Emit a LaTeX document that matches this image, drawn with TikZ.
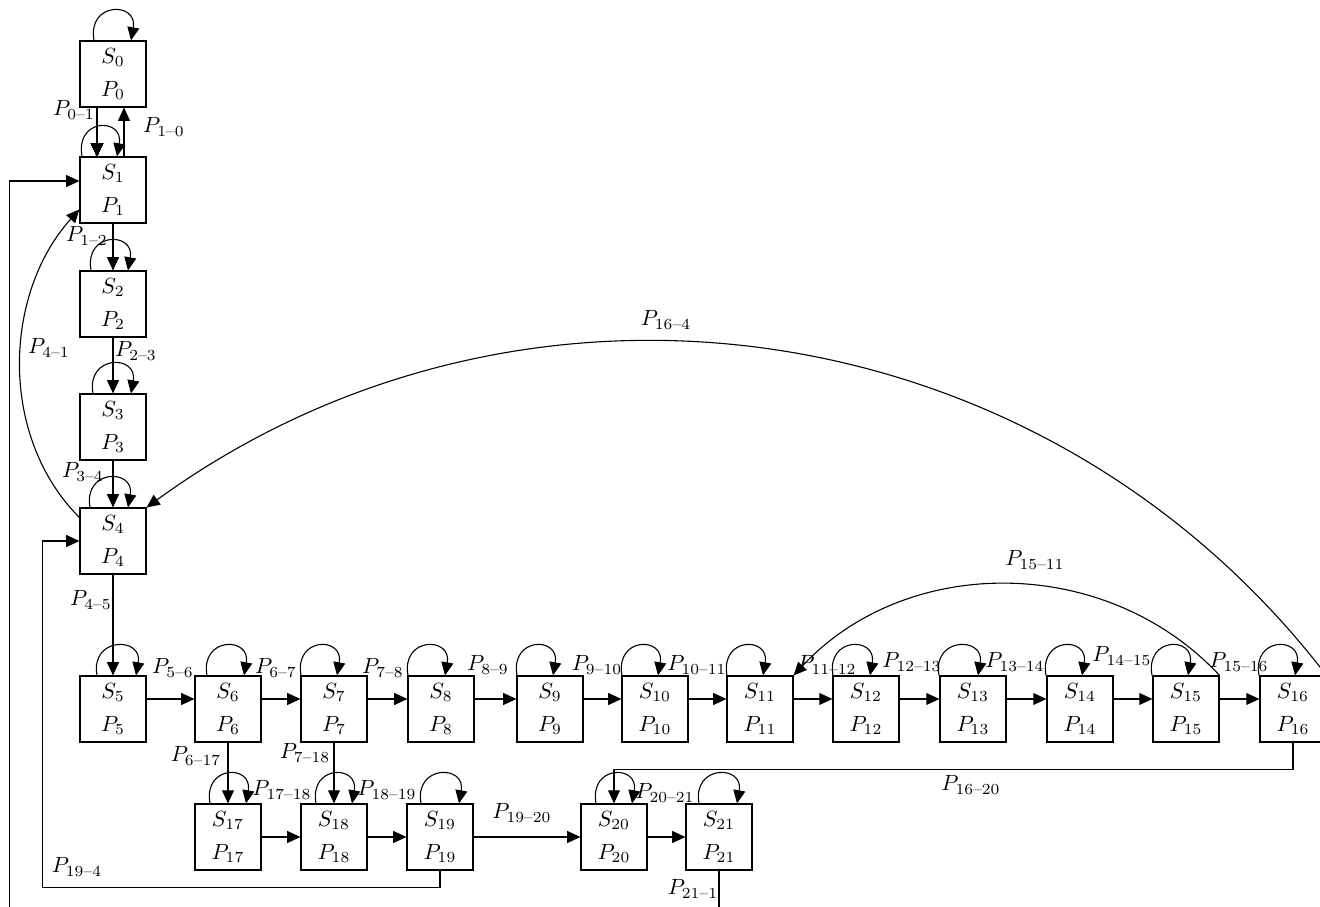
\documentclass[tikz,border=0pt]{standalone}
\usepackage{amsmath}
\usetikzlibrary{arrows.meta,calc}
\newcommand\selfloop[3]{\draw[arr] ($(#1.north)+(#2,0)$) .. controls +(-7,39) and +(7,39) .. ($(#1.north)+(#3,0)$);}
\newcommand\lab[5]{\node[lbl] (#1) at (#2,-#3) {$P_{#4\text{--}#5}$};}
\begin{document}
\begin{tikzpicture}[x=0.4545pt,y=0.4545pt,
  state/.style={draw, line width=0.5pt, minimum width=30pt, minimum height=30pt, inner sep=0pt, align=center},
  arr/.style={-{Triangle[length=6pt,width=5.4pt]}, line width=0.5pt},
  lbl/.style={inner sep=0pt}]
\useasboundingbox (0,0) rectangle (1320,-907);
% states
\foreach \n/\x/\y in {0/113/74,1/113/190,2/113/304,3/113/427,4/113/541,
  5/113/709,6/228/709,7/334/709,8/441/709,9/550/709,10/655/709,11/760/709,
  12/866/709,13/973/709,14/1080/709,15/1186/709,16/1293/709,
  17/228/837,18/334/837,19/440/837,20/614/837,21/719/837}
  \node[state] (S\n) at (\x,-\y) {$S_{\n}$\\[3pt]$P_{\n}$};
% self loops
\foreach \n/\a/\b in {0/-19/18,1/-31/4,2/-22/15,3/-20/18,4/-23/15,5/-16/23,6/-21/16,
  7/-33/3,8/-33/4,9/-33/3,10/-33/3,11/-33/3,12/-33/4,13/-34/5,14/-34/2,15/-34/2,16/-34/2,
  17/-18/18,18/-18/18,19/-19/19,20/-18/18,21/-20/18}
  \selfloop{S\n}{\a}{\b}
% column
\draw[arr] ($(S0.south)+(-16,0)$) -- ($(S1.north)+(-16,0)$);
\draw[arr] ($(S1.north)+(11,0)$) -- ($(S0.south)+(11,0)$);
\foreach \a/\b in {1/2,2/3,3/4,4/5,6/17,7/18}
  \draw[arr] (S\a.south) -- (S\b.north);
% main row
\foreach \a/\b in {5/6,6/7,7/8,8/9,9/10,10/11,11/12,12/13,13/14,14/15,15/16}
  \draw[arr] ($(S\a.east)+(0,10)$) -- ($(S\b.west)+(0,10)$);
% bottom row
\foreach \a/\b in {17/18,18/19,19/20,20/21}
  \draw[arr] (S\a.east) -- (S\b.west);
% long connections
\draw[arr] (S4.145) to[out=135,in=228,looseness=0.95] (S1.210);
\draw[arr] (S16.north east) to[out=127.5,in=36,looseness=1] (S4.north east);
\draw[arr] (S15.north east) to[out=133,in=47,looseness=1] (S11.north east);
\draw[arr] (S16.south) -- ++(0,-27) -| (S20.north);
\draw[arr] (S19.south) -- ++(0,-17) -| ($(S4.west)+(-37,0)$) -- (S4.west);
\draw[arr] (S21.south) -- ++(0,-50) -| ($(S1.165)+(-70,0)$) -- (S1.165);
% labels
\lab{l01}{74}{110}{0}{1}
\lab{l10}{164}{127}{1}{0}
\lab{l12}{87}{236}{1}{2}
\lab{l23}{136}{351}{2}{3}
\lab{l34}{83}{472}{3}{4}
\lab{l41}{49}{348}{4}{1}
\lab{l45}{91}{600}{4}{5}
\lab{l56}{173}{668}{5}{6}
\lab{l67}{276}{668}{6}{7}
\lab{l78}{383}{668}{7}{8}
\lab{l89}{488}{665}{8}{9}
\lab{l910}{597}{665}{9}{10}
\lab{l1011}{697}{665}{10}{11}
\lab{l1112}{827}{665}{11}{12}
\lab{l1213}{912}{662}{12}{13}
\lab{l1314}{1015}{662}{13}{14}
\lab{l1415}{1122}{656}{14}{15}
\lab{l1516}{1239}{662}{15}{16}
\lab{l1511}{1035}{560}{15}{11}
\lab{l164}{666}{320}{16}{4}
\lab{l1620}{971}{785}{16}{20}
\lab{l2021}{665}{793}{20}{21}
\lab{l211}{693}{889}{21}{1}
\lab{l617}{196}{756}{6}{17}
\lab{l718}{305}{753}{7}{18}
\lab{l1718}{282}{790}{17}{18}
\lab{l1819}{387}{790}{18}{19}
\lab{l1920}{522}{813}{19}{20}
\lab{l194}{77}{867}{19}{4}
\end{tikzpicture}
\end{document}
